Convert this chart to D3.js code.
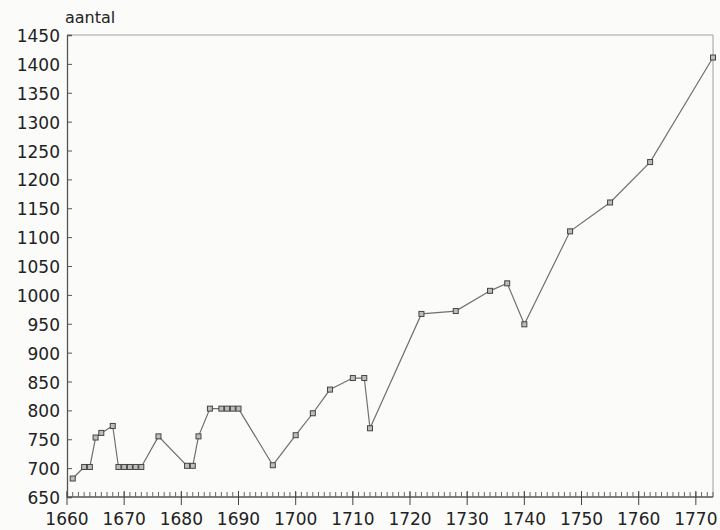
<!DOCTYPE html>
<html>
<head>
<meta charset="utf-8">
<script src="https://cdn.jsdelivr.net/npm/d3@7"></script>
<style>
    body { margin: 0; background: #fbfbfa; }
    svg { display: block; }
    text { font-family: "DejaVu Sans", sans-serif; fill: #222; }
</style>
</head>
<body>
<svg width="720" height="530"></svg>
<script>
const YEARS = [1661, 1663, 1664, 1665, 1666, 1668, 1669, 1670, 1671, 1672, 1673, 1676,
    1681, 1682, 1683, 1685, 1687, 1688, 1689, 1690, 1696, 1700, 1703, 1706, 1710, 1712,
    1713, 1722, 1728, 1734, 1737, 1740, 1748, 1755, 1762, 1773];
const VALUES = [682, 702, 702, 753, 761, 773, 702, 702, 702, 702, 702, 755,
    704, 704, 755, 803, 803, 803, 803, 803, 705, 757, 795, 836, 856, 856,
    769, 967, 972, 1007, 1020, 949, 1110, 1160, 1230, 1411];
const X_TICKS = [1660, 1670, 1680, 1690, 1700, 1710, 1720, 1730, 1740, 1750, 1760, 1770];
const Y_TICKS = [650, 700, 750, 800, 850, 900, 950, 1000, 1050, 1100, 1150, 1200, 1250, 1300, 1350, 1400, 1450];

const svg = d3.select('svg');
const plotLeft = 67, plotRight = 713, plotTop = 35, plotBottom = 497;

const x = d3.scaleLinear().domain([1660, 1773]).range([plotLeft, plotRight]);
const y = d3.scaleLinear().domain([650, 1450]).range([plotBottom, plotTop]);

const points = YEARS.map((yr, i) => ({ year: yr, value: VALUES[i] }));

// frame: top and right are faint in the scan
svg.append('path')
    .attr('d', `M${plotLeft},${plotTop}H${plotRight}V${plotBottom}`)
    .attr('fill', 'none')
    .attr('stroke', '#a0a0a0')
    .attr('stroke-width', 1);

// left axis, ticks pointing inward
const yAxis = svg.append('g')
    .attr('transform', `translate(${plotLeft},0)`)
    .call(d3.axisRight(y).tickValues(Y_TICKS).tickSize(5).tickFormat(''));
yAxis.select('.domain').attr('stroke', '#555').attr('stroke-width', 1.3);
yAxis.selectAll('.tick line').attr('stroke', '#555');

svg.append('g').selectAll('text')
    .data(Y_TICKS)
    .enter()
    .append('text')
    .attr('x', plotLeft - 7)
    .attr('y', d => y(d) + 7)
    .attr('text-anchor', 'end')
    .attr('font-size', 17)
    .text(d => d);

// bottom axis: yearly minor ticks upward, decade ticks downward
const xAxis = svg.append('g')
    .attr('transform', `translate(0,${plotBottom})`);
xAxis.append('line')
    .attr('x1', plotLeft).attr('x2', plotRight)
    .attr('stroke', '#555').attr('stroke-width', 1.3);
xAxis.selectAll('.minor')
    .data(d3.range(1660, 1774))
    .enter()
    .append('line')
    .attr('class', 'minor')
    .attr('x1', d => x(d)).attr('x2', d => x(d))
    .attr('y1', -5).attr('y2', 0)
    .attr('stroke', '#666');
xAxis.selectAll('.major')
    .data(X_TICKS)
    .enter()
    .append('line')
    .attr('class', 'major')
    .attr('x1', d => x(d)).attr('x2', d => x(d))
    .attr('y1', -6).attr('y2', 8)
    .attr('stroke', '#444');
xAxis.selectAll('text')
    .data(X_TICKS)
    .enter()
    .append('text')
    .attr('x', d => x(d))
    .attr('y', 28)
    .attr('text-anchor', 'middle')
    .attr('font-size', 17)
    .text(d => d);

svg.append('text')
    .attr('x', 65)
    .attr('y', 23)
    .attr('font-size', 16)
    .text('aantal');

const line = d3.line().x(d => x(d.year)).y(d => y(d.value));

svg.append('path')
    .datum(points)
    .attr('d', line)
    .attr('fill', 'none')
    .attr('stroke', '#707070')
    .attr('stroke-width', 1.2);

svg.selectAll('.marker')
    .data(points)
    .enter()
    .append('rect')
    .attr('class', 'marker')
    .attr('x', d => x(d.year) - 2.5)
    .attr('y', d => y(d.value) - 2.5)
    .attr('width', 5)
    .attr('height', 5)
    .attr('fill', '#bdbdbd')
    .attr('stroke', '#444')
    .attr('stroke-width', 1);
</script>
</body>
</html>
